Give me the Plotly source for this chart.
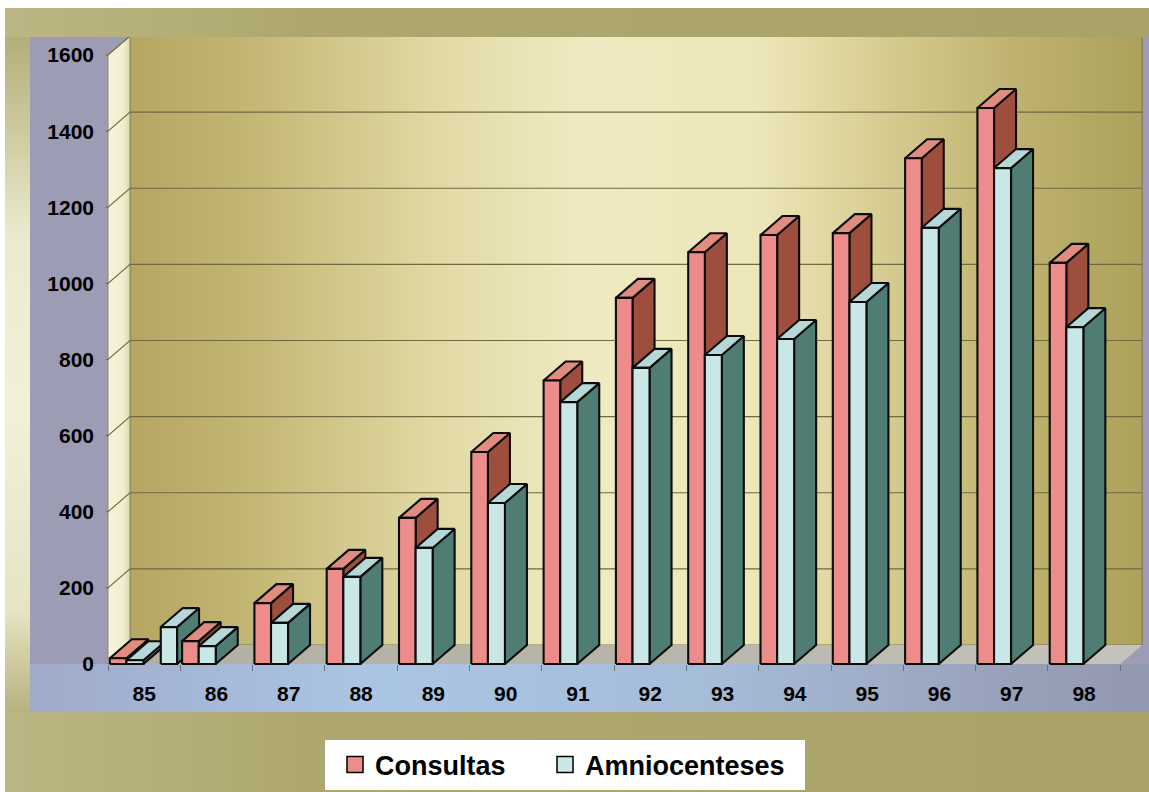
import plotly.graph_objects as go

# ---------------- data ----------------
years = ['85', '86', '87', '88', '89', '90', '91', '92', '93', '94', '95', '96', '97', '98']
consultas = [15, 60, 160, 250, 384, 557, 745, 962, 1082, 1127, 1132, 1329, 1461, 1054]
amniocenteses = [10, 47, 108, 229, 305, 423, 688, 778, 812, 854, 951, 1146, 1303, 885]
# the original shows one lone extra Amniocenteses column right after the 85 pair
stray_year = '85'
stray_value = 97
y_ticks = [0, 200, 400, 600, 800, 1000, 1200, 1400, 1600]
series_names = ['Consultas', 'Amniocenteses']

# ---------------- style / geometry ----------------
W, H = 1149, 792
FONT = 'Liberation Sans, Arial, sans-serif'
X0_PX, CAT_PX = 108, 72.3          # first category left edge, category width
Y0_PX, UNIT_PX = 664, 0.3806       # zero line, pixels per unit
PL, PR, PT, PB = 104, 1145, 37, 712
DX_PX, DY_PX = 22, 19

dx = DX_PX / CAT_PX
dy = DY_PX / UNIT_PX
x_range = [(PL - X0_PX) / CAT_PX, (PR - X0_PX) / CAT_PX]
y_range = [-(PB - Y0_PX) / UNIT_PX, (Y0_PX - PT) / UNIT_PX]
n = len(years)

PINK = dict(front='#ec8d8b', top='#e08d80', side='#9e4e3c')
AQUA = dict(front='#c9e7e6', top='#b6d8d9', side='#507d73')
SLOT_PINK = (0.025, 0.255)
SLOT_AQUA = (0.255, 0.49)
SLOT_STRAY = (0.73, 0.955)

fig = go.Figure()


def bg_poly(xs, ys, color=None, grad=None):
    kw = dict(fillcolor=color) if grad is None else dict(fillgradient=grad)
    fig.add_trace(go.Scatter(x=xs, y=ys, mode='lines', fill='toself', line=dict(width=0),
                             hoverinfo='skip', showlegend=False, xaxis='x', yaxis='y', **kw))


def rect(x0, x1, y0, y1):
    return [x0, x1, x1, x0, x0], [y0, y0, y1, y1, y0]


# ---- page background (pixel space subplot) ----
bg_poly(*rect(5, W, 8, H), grad=dict(type='horizontal', start=5, stop=W,
        colorscale=[[0, '#bcb684'], [0.25, '#aea870'], [1, '#a9a36a']]))
bg_poly(*rect(5, 30, 37, 712), grad=dict(type='vertical', start=37, stop=712,
        colorscale=[[0, '#b4ae78'], [0.3, '#ecebcf'], [0.55, '#f2f1d8'], [0.85, '#e6e4c4'], [1, '#b8b27e']]))
bg_poly(*rect(30, W, 37, 712), color='#9c9db4')
bg_poly(*rect(30, W, 664, 712), grad=dict(type='horizontal', start=30, stop=W,
        colorscale=[[0, '#a0aaca'], [0.3, '#aac5e3'], [0.6, '#a6bdda'], [0.85, '#9aa3bc'], [1, '#9298ae']]))
bg_poly(*rect(325, 805, 740, 790), color='#ffffff')


def chart_poly(xs, ys, color=None, grad=None, line=None):
    kw = dict(fillcolor=color) if grad is None else dict(fillgradient=grad)
    fig.add_trace(go.Scatter(x=xs, y=ys, mode='lines', fill='toself',
                             line=line or dict(width=0), hoverinfo='skip', showlegend=False,
                             xaxis='x2', yaxis='y2', **kw))


top = y_ticks[-1]
# back wall
chart_poly([dx, n + dx, n + dx, dx, dx], [dy, dy, top + dy, top + dy, dy],
           grad=dict(type='horizontal', start=dx, stop=n + dx,
                     colorscale=[[0, '#b5a662'], [0.12, '#c4b674'], [0.3, '#e1d9a4'], [0.45, '#f0eac2'],
                                 [0.62, '#ede6b8'], [0.76, '#d4c98c'], [0.88, '#beb16e'], [1, '#aca25a']]),
           line=dict(color='#7d7850', width=1))
# side wall
chart_poly([0, dx, dx, 0, 0], [0, dy, top + dy, top, 0],
           grad=dict(type='horizontal', start=0, stop=dx,
                     colorscale=[[0, '#f6f5dc'], [0.7, '#f0eecf'], [1, '#ddd8b0']]),
           line=dict(color='#8d8a66', width=1))
# floor
chart_poly([0, n, n + dx, dx, 0], [0, 0, dy, dy, 0],
           grad=dict(type='horizontal', start=0, stop=n + dx,
                     colorscale=[[0, '#b3b0a2'], [0.5, '#b7b5aa'], [1, '#c4c4bd']]))

# gridlines (side wall diagonal + back wall)
gx, gy = [], []
for v in y_ticks[1:]:
    gx += [-0.03, 0, dx, n + dx, None]
    gy += [v, v, v + dy, v + dy, None]
fig.add_trace(go.Scatter(x=gx, y=gy, mode='lines', line=dict(color='#6f6a40', width=1.1),
                         hoverinfo='skip', showlegend=False, xaxis='x2', yaxis='y2'))


def add_box(xl, xr, v, col):
    faces = [
        ('side', [xr, xr + dx, xr + dx, xr, xr], [0, dy, v + dy, v, 0]),
        ('top', [xl, xr, xr + dx, xl + dx, xl], [v, v, v + dy, v + dy, v]),
        ('front', [xl, xr, xr, xl, xl], [0, 0, v, v, 0]),
    ]
    for k, xs, ys in faces:
        chart_poly(xs, ys, color=col[k], line=dict(color='#0c0c0c', width=2.1))


for i, yr in enumerate(years):
    add_box(i + SLOT_PINK[0], i + SLOT_PINK[1], consultas[i], PINK)
    add_box(i + SLOT_AQUA[0], i + SLOT_AQUA[1], amniocenteses[i], AQUA)
    if yr == stray_year:
        add_box(i + SLOT_STRAY[0], i + SLOT_STRAY[1], stray_value, AQUA)

# legend entries
for name, col, lw in zip(series_names, [PINK, AQUA], [165, 215]):
    fig.add_trace(go.Scatter(x=[None], y=[None], mode='markers', name=name, xaxis='x2', yaxis='y2',
                             legendwidth=lw,
                             marker=dict(symbol='square', size=16, color=col['front'],
                                         line=dict(color='black', width=1.5))))

tickfont = dict(family=FONT, size=21, color='black', weight='bold')
fig.update_layout(
    width=W, height=H, margin=dict(l=0, r=0, t=0, b=0),
    paper_bgcolor='white', plot_bgcolor='rgba(0,0,0,0)',
    xaxis=dict(domain=[0, 1], range=[0, W], visible=False, fixedrange=True),
    yaxis=dict(domain=[0, 1], range=[H, 0], visible=False, fixedrange=True),
    xaxis2=dict(domain=[PL / W, PR / W], range=x_range, anchor='free', position=(H - Y0_PX) / H,
                tickmode='array', tickvals=[i + 0.5 for i in range(n)], ticktext=years,
                ticks='', showgrid=False, zeroline=False, showline=False, tickfont=tickfont,
                ticklabelstandoff=15, fixedrange=True,
                minor=dict(tickmode='array', tickvals=list(range(n + 1)), ticks='outside', ticklen=6,
                           tickcolor='#6b6f80', showgrid=False)),
    yaxis2=dict(domain=[1 - PB / H, 1 - PT / H], range=y_range, anchor='x2',
                tickmode='array', tickvals=y_ticks, ticks='', showgrid=False, zeroline=False,
                showline=False, tickfont=tickfont, ticklabelstandoff=9, fixedrange=True),
    showlegend=True,
    legend=dict(orientation='h', x=335 / W, xanchor='left', y=(H - 765) / H, yanchor='middle',
                bgcolor='rgba(0,0,0,0)', font=dict(family=FONT, size=27, color='black', weight='bold'),
                entrywidthmode='pixels', itemsizing='trace', traceorder='normal'),
)

fig.write_html('out.html')
